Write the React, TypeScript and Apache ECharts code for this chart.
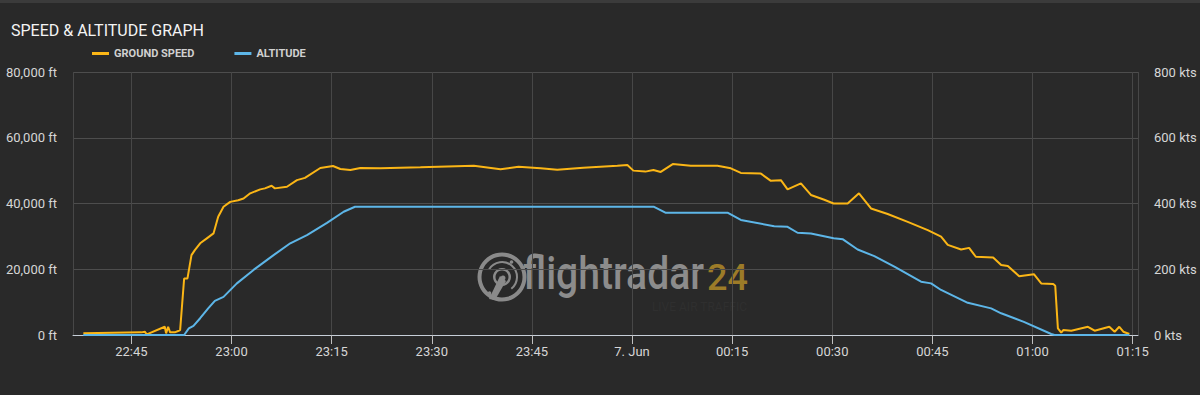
import React, { useEffect, useRef } from "react";
import * as echarts from "echarts";

const speedTimes = [
  "22:37:48", "22:46:30", "22:47:00", "22:47:18", "22:50:00", "22:50:12", "22:50:30", "22:50:48",
  "22:51:30", "22:52:00", "22:52:18", "22:52:54", "22:53:24", "22:54:00", "22:54:30", "22:55:18",
  "22:56:18", "22:57:18", "22:58:00", "22:58:48", "22:59:48", "23:01:00", "23:01:48", "23:02:48",
  "23:04:18", "23:05:00", "23:06:00", "23:06:30", "23:08:18", "23:09:48", "23:11:00", "23:13:18",
  "23:15:12", "23:16:18", "23:17:48", "23:19:18", "23:22:18", "23:28:18", "23:36:18", "23:40:18",
  "23:43:00", "23:46:18", "23:48:48", "23:52:42", "23:57:48", "23:59:18", "00:00:12", "00:02:00",
  "00:03:12", "00:04:18", "00:06:06", "00:08:48", "00:12:48", "00:14:48", "00:16:18", "00:19:18",
  "00:20:48", "00:22:18", "00:23:18", "00:25:18", "00:26:48", "00:28:42", "00:30:12", "00:32:18",
  "00:34:00", "00:35:48", "00:38:18", "00:41:18", "00:44:18", "00:46:18", "00:47:18", "00:49:18",
  "00:50:30", "00:51:30", "00:54:06", "00:55:18", "00:56:18", "00:58:00", "01:00:12", "01:01:18",
  "01:03:06", "01:03:24", "01:03:48", "01:04:18", "01:04:36", "01:05:48", "01:08:18", "01:09:18",
  "01:11:30", "01:12:18", "01:13:00", "01:13:36", "01:14:30",
];
const speedKts = [
  5, 8, 10, 2, 25, 5, 25, 8,
  8, 12, 15, 172, 172, 243, 258, 279,
  294, 309, 360, 390, 405, 410, 415, 431,
  443, 446, 454, 446, 451, 471, 478, 508,
  514, 505, 502, 508, 507, 510, 515, 504,
  512, 507, 503, 509, 515, 517, 500, 497,
  502, 496, 520, 515, 515, 507, 493, 491,
  469, 471, 443, 461, 426, 412, 400, 400,
  431, 385, 368, 344, 319, 299, 274, 260,
  265, 238, 236, 213, 210, 179, 185, 157,
  155, 150, 20, 7, 15, 13, 25, 13,
  25, 10, 25, 10, 3,
];

const altitudeTimes = [
  "22:37:48", "22:52:54", "22:53:36", "22:54:18", "22:55:18", "22:56:30", "22:57:30", "22:58:48",
  "23:00:48", "23:03:18", "23:06:18", "23:08:48", "23:11:18", "23:14:18", "23:16:48", "23:18:30",
  "00:03:18", "00:05:00", "00:14:18", "00:16:18", "00:21:18", "00:23:18", "00:24:48", "00:26:48",
  "00:30:12", "00:31:36", "00:33:48", "00:36:18", "00:39:18", "00:43:18", "00:44:48", "00:46:18",
  "00:50:18", "00:53:48", "00:55:18", "00:58:42", "01:02:48", "01:03:18", "01:14:30",
];
const altitudeFt = [
  0, 0, 2000, 2800, 5100, 8100, 10400, 11600,
  15700, 19800, 24300, 27900, 30400, 34100, 37500, 39000,
  39000, 37200, 37200, 35000, 33100, 32900, 31100, 30900,
  29400, 29100, 26000, 24000, 20800, 16200, 15700, 13700,
  9800, 8100, 6600, 4000, 300, 0, 0,
];

const axisStart = "22:36:15";
const axisEnd = "01:15:48";
const legendNames = ["GROUND SPEED", "ALTITUDE"];

function toTime(s: string): number {
  const [h, m, sec] = s.split(":").map(Number);
  const day = h < 12 ? 7 : 6;
  return new Date(2024, 5, day, h, m, sec).getTime();
}

function pad(n: number) {
  return n < 10 ? "0" + n : "" + n;
}

export default function App() {
  const ref = useRef<HTMLDivElement>(null);
  useEffect(() => {
    if (!ref.current) return;
    const chart = echarts.init(ref.current, undefined, { renderer: "svg" });
    const font = "Roboto";
    const speedData = speedTimes.map((t, i) => [toTime(t), speedKts[i]]);
    const altData = altitudeTimes.map((t, i) => [toTime(t), altitudeFt[i]]);
    chart.setOption({
      animation: false,
      backgroundColor: "#292929",
      title: {
        text: "SPEED & ALTITUDE GRAPH",
        left: 6,
        top: 17,
        textStyle: { color: "#f4f4f4", fontFamily: font, fontSize: 16, fontWeight: "normal" },
      },
      legend: {
        data: legendNames,
        left: 92,
        top: 48,
        padding: 0,
        icon: "rect",
        itemWidth: 17,
        itemHeight: 3,
        itemGap: 40,
        textStyle: { color: "#d0d0d0", fontFamily: font, fontSize: 11, fontWeight: "bold" },
      },
      grid: { left: 73, right: 62, top: 72, bottom: 60 },
      xAxis: {
        type: "time",
        min: toTime(axisStart),
        max: toTime(axisEnd),
        splitNumber: 10,
        minInterval: 16 * 60000,
        maxInterval: 16 * 60000,
        axisLine: { show: true, lineStyle: { color: "#c6ced8", width: 1 } },
        axisTick: { show: true, length: 9, lineStyle: { color: "#bfbfbf" } },
        axisLabel: {
          color: "#d6d6d6",
          fontFamily: font,
          fontSize: 13,
          margin: 10,
          hideOverlap: false,
          formatter: (v: number) => {
            const d = new Date(v);
            if (d.getHours() === 0 && d.getMinutes() === 0) return "7. Jun";
            return pad(d.getHours()) + ":" + pad(d.getMinutes());
          },
        },
        splitLine: { show: true, lineStyle: { color: "#474747", width: 1 } },
      },
      yAxis: [
        {
          type: "value",
          min: 0,
          max: 80000,
          interval: 20000,
          axisLine: { show: false },
          axisTick: { show: false },
          axisLabel: {
            color: "#d6d6d6",
            fontFamily: font,
            fontSize: 13,
            margin: 16,
            formatter: (v: number) => v.toLocaleString("en-US") + " ft",
          },
          splitLine: { show: true, lineStyle: { color: "#4d4d4d", width: 1 } },
        },
        {
          type: "value",
          min: 0,
          max: 800,
          interval: 200,
          axisLine: { show: false },
          axisTick: { show: false },
          axisLabel: {
            color: "#d6d6d6",
            fontFamily: font,
            fontSize: 13,
            margin: 16,
            formatter: (v: number) => v + " kts",
          },
          splitLine: { show: false },
        },
      ],
      graphic: [
        { type: "rect", left: 0, top: 0, shape: { width: 1200, height: 3 }, style: { fill: "#3b3b3b" }, silent: true },
        {
          type: "group",
          silent: true,
          z: 1,
          children: [
            { type: "ring", shape: { cx: 502, cy: 277, r: 24.5, r0: 20.5 }, style: { fill: "#8a8a8a" } },
            { type: "arc", shape: { cx: 502, cy: 277, r: 15, startAngle: -2.6, endAngle: 0.9 }, style: { stroke: "#8a8a8a", lineWidth: 2, fill: "none" } },
            { type: "ring", shape: { cx: 502, cy: 277, r: 9, r0: 6.5 }, style: { fill: "#8a8a8a" } },
            { type: "circle", shape: { cx: 503, cy: 278, r: 2.5 }, style: { fill: "#8a8a8a" } },
            { type: "polygon", shape: { points: [[500, 276], [506, 281], [495, 300], [489, 299]] }, style: { fill: "#8a8a8a" } },
            { type: "circle", shape: { cx: 511.5, cy: 262, r: 1.8 }, style: { fill: "#8a8a8a" } },
            { type: "circle", shape: { cx: 489.5, cy: 293, r: 1.8 }, style: { fill: "#8a8a8a" } },
            {
              type: "text",
              x: 523,
              y: 296,
              scaleX: 0.85,
              style: { text: "flightradar", fill: "#8c8c8c", font: "500 46px Roboto", textVerticalAlign: "bottom" },
            },
            {
              type: "text",
              x: 707,
              y: 296,
              style: { text: "24", fill: "#9c7b28", font: "500 36px Roboto", textVerticalAlign: "bottom" },
            },
            {
              type: "text",
              x: 747,
              y: 313,
              style: { text: "LIVE AIR TRAFFIC", fill: "#2f2f2f", font: "12px Roboto", textAlign: "right", textVerticalAlign: "bottom" },
            },
          ],
        },
      ],
      series: [
        {
          name: "GROUND SPEED",
          type: "line",
          yAxisIndex: 1,
          data: speedData,
          showSymbol: false,
          symbol: "none",
          lineStyle: { color: "#fbb616", width: 2 },
          itemStyle: { color: "#fbb616" },
          z: 3,
        },
        {
          name: "ALTITUDE",
          type: "line",
          yAxisIndex: 0,
          data: altData,
          showSymbol: false,
          symbol: "none",
          lineStyle: { color: "#5db6e8", width: 2 },
          itemStyle: { color: "#5db6e8" },
          z: 4,
        },
      ],
    });
    return () => chart.dispose();
  }, []);
  return (
    <div
      ref={ref}
      style={{ position: "fixed", left: 0, top: 0, width: 1200, height: 395 }}
    />
  );
}
